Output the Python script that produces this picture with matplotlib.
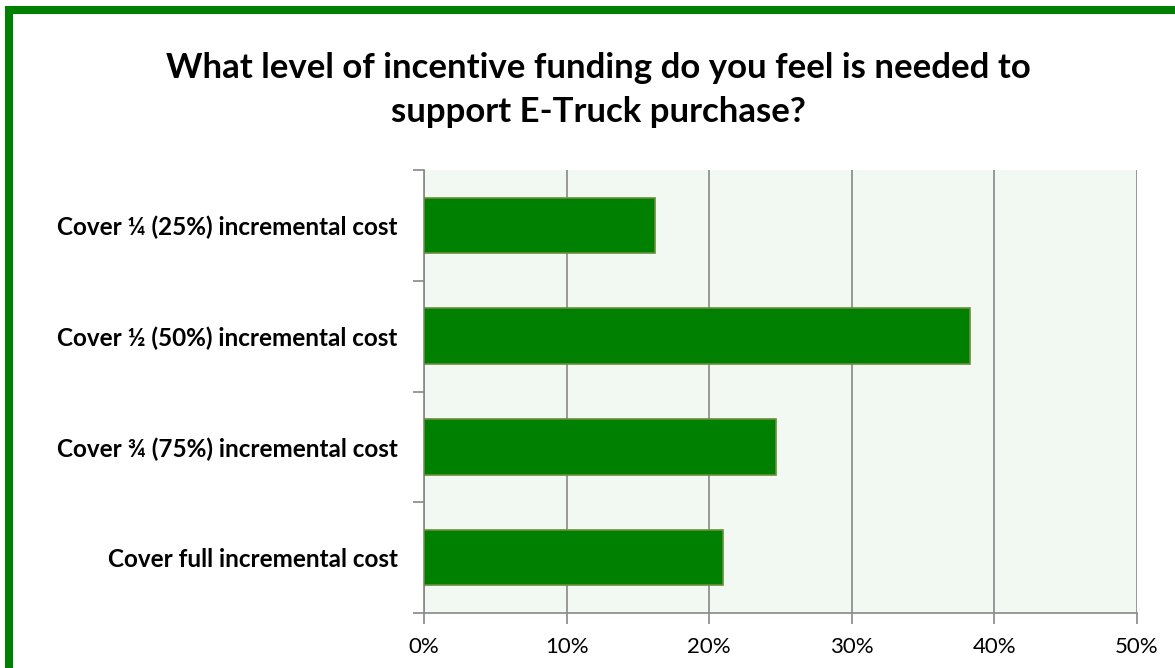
import matplotlib
matplotlib.use('Agg')
import matplotlib.pyplot as plt
from matplotlib.patches import Rectangle
from matplotlib.ticker import FuncFormatter

categories = [
    'Cover \u00bc (25%) incremental cost',
    'Cover \u00bd (50%) incremental cost',
    'Cover \u00be (75%) incremental cost',
    'Cover full incremental cost',
]
values = [16.2, 38.3, 24.7, 21.0]
x_ticks = [0, 10, 20, 30, 40, 50]
title = 'What level of incentive funding do you feel is needed to\nsupport E-Truck purchase?'

plt.rcParams['font.family'] = ['Lato', 'DejaVu Sans']

dpi = 100
fig = plt.figure(figsize=(1175 / dpi, 668 / dpi), dpi=dpi)
ax = fig.add_axes([424 / 1175, 1 - 613 / 668, (1137 - 424) / 1175, (613 - 170) / 668])

pos = list(range(len(categories)))
ax.barh(pos, values, height=0.5, color='#008000', edgecolor='#6b8e3a', linewidth=1.2, zorder=3)

ax.set_ylim(len(categories) - 0.5, -0.5)
ax.set_xlim(0, 50)
ax.set_facecolor('#f2f8f2')

ax.set_xticks(x_ticks)
ax.xaxis.set_major_formatter(FuncFormatter(lambda v, p: '{:.0f}%'.format(v)))
ax.set_yticks(pos)
ax.set_yticklabels(categories, fontweight='bold', fontsize=17.5)
ax.set_yticks([p - 0.5 for p in pos] + [len(pos) - 0.5], minor=True)

ax.tick_params(axis='y', which='major', length=0, pad=19)
ax.tick_params(axis='y', which='minor', length=8, color='#888888', width=1.2)
ax.tick_params(axis='x', length=8, color='#888888', width=1.2, labelsize=16, pad=9)

ax.grid(axis='x', color='#888888', linewidth=1.2, zorder=1)
ax.set_axisbelow(True)
for s in ['top', 'right']:
    ax.spines[s].set_visible(False)
for s in ['left', 'bottom']:
    ax.spines[s].set_color('#888888')
    ax.spines[s].set_linewidth(1.2)

fig.text(598 / 1175, 1 - 90 / 668, title, ha='center', va='center',
         fontsize=25, fontweight='bold', linespacing=1.45)

# green frame, right and bottom edges run off the canvas
fig.patches.append(Rectangle((9 / 1175, -0.1), 1.2, 1.1 - 10 / 668, transform=fig.transFigure,
                             fill=False, edgecolor='#008000', linewidth=5.8))

fig.savefig('out.png', dpi=dpi)
